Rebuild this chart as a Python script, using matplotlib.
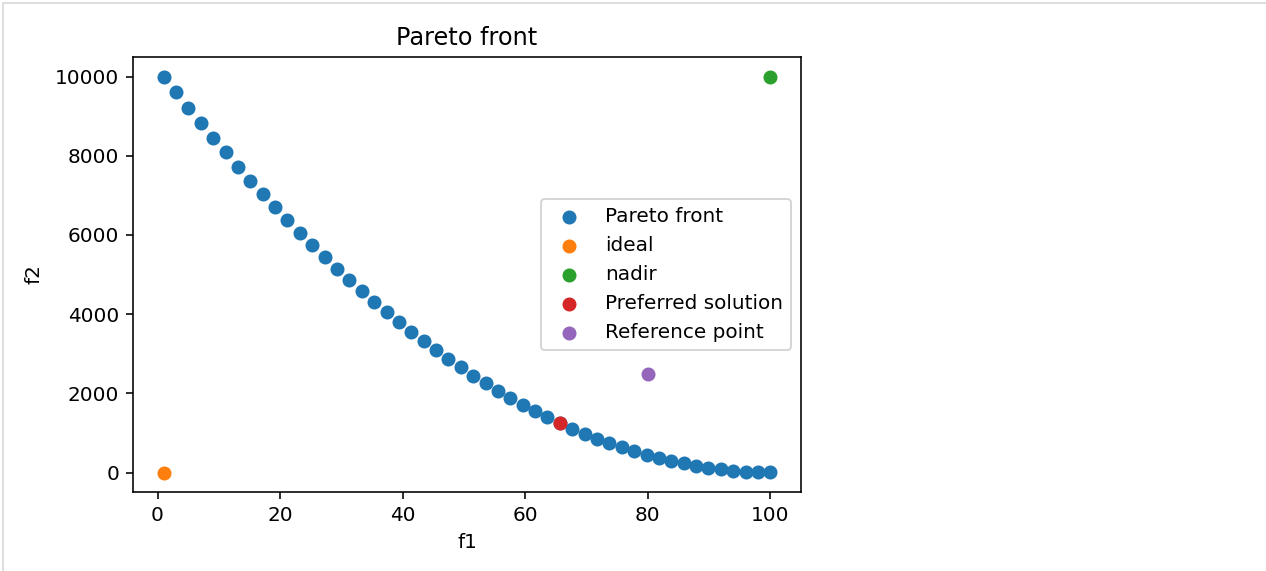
import matplotlib
matplotlib.use("Agg")
import matplotlib.pyplot as plt
from matplotlib.lines import Line2D

# Pareto front values
pareto_f1 = [1.00, 3.02, 5.04, 7.06, 9.08, 11.10, 13.12, 15.14, 17.16, 19.18,
             21.20, 23.22, 25.24, 27.27, 29.29, 31.31, 33.33, 35.35, 37.37, 39.39,
             41.41, 43.43, 45.45, 47.47, 49.49, 51.51, 53.53, 55.55, 57.57, 59.59,
             61.61, 63.63, 65.65, 67.67, 69.69, 71.71, 73.73, 75.76, 77.78, 79.80,
             81.82, 83.84, 85.86, 87.88, 89.90, 91.92, 93.94, 95.96, 97.98, 100.00]
pareto_f2 = [10000, 9600, 9208, 8825, 8449, 8082, 7723, 7372, 7029, 6695,
             6368, 6050, 5740, 5436, 5142, 4857, 4579, 4310, 4049, 3796,
             3551, 3314, 3086, 2866, 2653, 2449, 2253, 2066, 1886, 1715,
             1552, 1397, 1250, 1111, 980, 858, 744, 637, 539, 449,
             368, 295, 229, 172, 123, 82, 50, 25, 9, 1]
ideal = [1, 0]
nadir = [100, 10000]
preferred = [65.65, 1250]
reference = [80, 2500]

fig = plt.figure(figsize=(1266 / 144, 571 / 144), dpi=144)
ax = fig.add_axes([133.3 / 1266, 1 - 492.3 / 571, (800.7 - 133.3) / 1266, (492.3 - 56.7) / 571])

ax.scatter(pareto_f1, pareto_f2, label="Pareto front")
ax.scatter([ideal[0]], [ideal[1]], label="ideal")
ax.scatter([nadir[0]], [nadir[1]], label="nadir")
ax.scatter([preferred[0]], [preferred[1]], label="Preferred solution")
ax.scatter([reference[0]], [reference[1]], label="Reference point")

ax.set_title("Pareto front")
ax.set_xlabel("f1")
ax.set_ylabel("f2", labelpad=6)
ax.set_xticks([0, 20, 40, 60, 80, 100])
ax.set_yticks([0, 2000, 4000, 6000, 8000, 10000])
ax.legend(loc="center right")

# notebook output frame
fig.add_artist(Line2D([3 / 1266, 1], [1 - 3.3 / 571, 1 - 3.3 / 571], transform=fig.transFigure,
                      color="#dedede", lw=1.0))
fig.add_artist(Line2D([3.3 / 1266, 3.3 / 1266], [0, 1 - 3.3 / 571], transform=fig.transFigure,
                      color="#dedede", lw=1.0))

fig.savefig("out.png", dpi=144)
